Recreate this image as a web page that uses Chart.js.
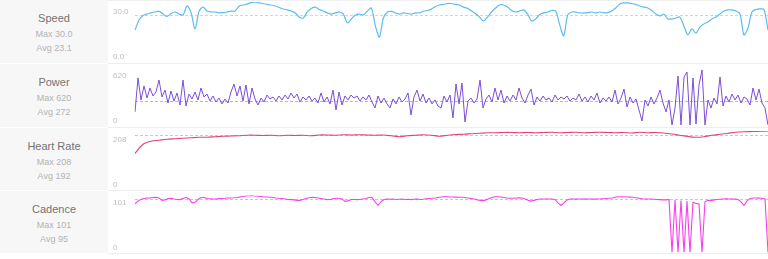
<!DOCTYPE html>
<html>
<head>
<meta charset="utf-8">
<title>Ride metrics</title>
<script src="https://cdn.jsdelivr.net/npm/chart.js@4"></script>
<style>
  body { margin: 0; background: #fff; font-family: "Liberation Sans", Arial, sans-serif; }
  .row { display: flex; width: 768px; }
  .info { width: 108px; background: #f7f7f7; position: relative; text-align: center; }
  .info .name { position: absolute; left: 0; right: 0; top: 12px; font-size: 11px; line-height: 13px; color: #737373; }
  .info .stat { position: absolute; left: 0; right: 0; font-size: 9px; line-height: 11px; color: #b3b3b3; }
  .plot { flex: 1; position: relative; border-bottom: 1px solid #eeeeee; }
  .plot.first { box-shadow: inset 0 1px 0 #f0f0f0; }
</style>
</head>
<body>
<div id="panels"></div>
<script>
// metric names and summary text
const metricNames = ['Speed', 'Power', 'Heart Rate', 'Cadence'];
const metricMax = ['30.0', '620', '208', '101'];
const metricAvg = ['23.1', '272', '192', '95'];
const avgValues = [23.1, 272, 192, 95];
const scaleMax = [30, 620, 208, 101];
const topTicks = ['30.0', '620', '208', '101'];
const bottomTicks = ['0.0', '0', '0', '0'];

const speedValues = [15.1, 20.4, 22.8, 23.6, 24.2, 24.7, 25.0, 23.6, 22.3, 23.9,
  24.7, 23.6, 23.1, 27.9, 24.2, 15.7, 25.2, 27.3, 25.2, 24.7,
  24.7, 24.2, 24.4, 24.7, 25.2, 25.2, 27.9, 28.4, 28.9, 29.7,
  30.0, 29.5, 29.2, 28.7, 28.4, 27.9, 27.1, 26.3, 25.8, 25.2,
  24.2, 22.0, 21.5, 24.7, 26.6, 27.3, 26.0, 25.2, 24.2, 23.6,
  24.2, 24.7, 23.6, 18.9, 21.0, 23.1, 23.6, 23.1, 25.2, 26.8,
  17.3, 11.4, 21.5, 24.7, 25.0, 24.2, 23.6, 24.2, 23.9, 23.6,
  24.2, 24.2, 25.2, 25.5, 26.3, 27.6, 28.4, 28.7, 29.2, 29.2,
  28.7, 28.4, 27.3, 26.6, 25.2, 23.9, 22.0, 19.9, 22.0, 24.7,
  26.8, 28.4, 28.4, 27.3, 25.5, 24.7, 25.2, 25.8, 23.6, 19.9,
  21.0, 23.4, 24.2, 24.7, 25.5, 25.2, 18.0, 12.0, 23.1, 24.7,
  24.7, 24.2, 24.2, 24.4, 24.7, 24.2, 24.7, 24.2, 24.4, 25.2,
  26.8, 28.9, 29.5, 29.5, 29.2, 28.7, 27.9, 27.3, 26.8, 25.5,
  23.6, 22.6, 23.6, 21.0, 21.0, 21.5, 22.0, 17.3, 12.5, 15.7,
  13.5, 16.7, 18.3, 19.4, 21.0, 22.0, 23.6, 25.2, 25.8, 25.8,
  25.2, 23.6, 12.5, 16.2, 24.7, 26.0, 26.3, 26.0, 15.1];

const powerValues = [147, 530, 282, 440, 304, 417, 327, 372, 507, 316,
  394, 248, 383, 270, 361, 225, 507, 214, 349, 293,
  372, 282, 417, 316, 349, 270, 327, 259, 304, 237,
  293, 248, 372, 462, 327, 440, 270, 451, 237, 417,
  293, 225, 304, 259, 338, 293, 316, 270, 327, 282,
  338, 293, 361, 304, 349, 259, 316, 282, 327, 270,
  304, 248, 361, 259, 316, 237, 394, 169, 372, 225,
  327, 282, 338, 304, 327, 270, 316, 282, 338, 259,
  192, 327, 248, 304, 237, 192, 293, 237, 316, 259,
  293, 361, 113, 316, 394, 270, 349, 248, 304, 237,
  282, 214, 192, 327, 259, 338, 79, 462, 237, 473,
  34, 270, 304, 248, 293, 507, 192, 293, 338, 259,
  417, 282, 394, 248, 327, 270, 338, 282, 417, 304,
  248, 338, 405, 225, 316, 270, 327, 282, 304, 259,
  338, 282, 316, 293, 327, 270, 304, 282, 349, 270,
  316, 259, 327, 282, 361, 248, 304, 270, 316, 259,
  394, 237, 304, 405, 203, 316, 248, 293, 169, 45,
  282, 214, 316, 237, 304, 394, 248, 147, 282, 0,
  192, 552, 0, 541, 597, 0, 530, 11, 451, 620,
  0, 282, 192, 304, 237, 541, 214, 327, 259, 349,
  282, 338, 248, 316, 293, 225, 417, 282, 405, 248,
  192, 0];

const heartValues = [119, 155, 167, 171, 175, 177, 179, 181, 183, 183,
  185, 187, 188, 189, 191, 191, 190, 191, 189, 191,
  190, 191, 189, 192, 192, 191, 193, 192, 193, 192,
  191, 192, 189, 185, 189, 191, 193, 191, 187, 191,
  194, 195, 197, 199, 201, 201, 202, 202, 201, 202,
  201, 202, 203, 201, 202, 203, 201, 202, 203, 202,
  201, 202, 200, 203, 201, 202, 200, 196, 191, 186,
  183, 185, 191, 195, 199, 203, 205, 206, 207, 208];

const cadenceValues = [86, 91.5, 94, 95.8, 96.7, 96.7, 97.5, 97.9, 96.7, 92.4,
  93.2, 95.8, 96.1, 94.9, 94, 93.7, 95.8, 97.9, 94.9, 88,
  88.9, 94, 97.5, 97.5, 95.8, 95.3, 94.9, 94.9, 95.4, 95.8,
  96.1, 96.7, 96.7, 97, 97.5, 98.4, 99.2, 100.1, 100.6, 101,
  100.1, 99.6, 99.2, 98.4, 98.4, 97.9, 97.5, 96.7, 96.1, 95.8,
  94.9, 94, 93.7, 93.2, 92.4, 92.4, 94, 95.8, 97, 97.9,
  97.5, 96.7, 95.8, 94.9, 93.7, 94, 95.3, 96.1, 96.1, 94.9,
  90.6, 91.5, 94, 94, 93.7, 94, 94.9, 95.8, 97.5, 97.5,
  89.7, 83.7, 89.7, 94, 94.9, 94.4, 94.9, 94, 94.4, 94.9,
  94, 94.4, 93.7, 94.4, 94.9, 94, 94.4, 95.3, 95.8, 96.1,
  96.7, 97.5, 98.4, 98.9, 98.7, 98.4, 98.4, 98.1, 97.9, 97.9,
  97.5, 96.7, 95.8, 94.9, 93.5, 92.4, 92, 93.2, 95.8, 97.5,
  98.7, 98.9, 98.4, 97.5, 96.7, 96.1, 96.1, 96.7, 97, 96.7,
  94.9, 92.4, 91, 92.4, 94, 94.9, 94.9, 94.9, 94.9, 94.9,
  94, 88, 83.4, 88, 93.2, 94.9, 94.9, 94.6, 94.9, 94.9,
  94.6, 94.9, 94.9, 94.6, 94.9, 94.9, 95.3, 95.8, 96.1, 96.7,
  97.9, 98.7, 98.9, 98.7, 98.4, 98.1, 97.9, 97, 96.1, 95.3,
  94.9, 94.9, 94.9, 94.4, 94, 93.7, 93.2, 93.2, 94, 0,
  93, 0, 92, 0, 91, 0, 89, 87, 86, 0,
  89.7, 92.4, 92, 93.2, 94, 94.4, 94.9, 95.3, 94.9, 94.9,
  94.6, 94, 89.7, 83.7, 91.5, 95.8, 96.7, 96.7, 96.4, 96.1,
  94.9, 0];

const seriesValues = [speedValues, powerValues, heartValues, cadenceValues];
const lineColors = ['#5dbcf0', '#7a4fd8', '#e2457a', '#f540ee'];
const avgColors = ['#b3e0f7', '#c2acef', '#f4b1c8', '#f7a8f2'];
const lineWidths = [1.2, 1, 1.2, 1.1];
const rowHeights = [64, 64, 63, 63];
const pads = [
  { top: 2, bottom: 4.5 },
  { top: 6, bottom: 2 },
  { top: 3, bottom: 7 },
  { top: 4.5, bottom: 0.5 }
];

// dashed average line + the two y labels
const panelDecor = {
  id: 'panelDecor',
  beforeDatasetsDraw(chart, args, opts) {
    const { ctx, chartArea } = chart;
    const py = Math.round(chart.scales.y.getPixelForValue(opts.avg)) + 0.5;
    ctx.save();
    ctx.strokeStyle = opts.avgColor;
    ctx.lineWidth = 1;
    ctx.setLineDash([3, 2]);
    ctx.beginPath();
    ctx.moveTo(chartArea.left, py);
    ctx.lineTo(chartArea.right, py);
    ctx.stroke();
    ctx.restore();
  },
  afterDraw(chart, args, opts) {
    const ctx = chart.ctx;
    ctx.save();
    ctx.font = '8px "Liberation Sans", Arial, sans-serif';
    ctx.fillStyle = '#bdbdbd';
    ctx.textAlign = 'left';
    ctx.textBaseline = 'middle';
    ctx.fillText(opts.topLabel, 5, 11.5);
    ctx.fillText(opts.bottomLabel, 5, 56.5);
    ctx.restore();
  }
};

const panels = document.getElementById('panels');

metricNames.forEach((name, i) => {
  const h = rowHeights[i];
  const row = document.createElement('div');
  row.className = 'row';
  row.style.height = h + 'px';
  row.innerHTML =
    '<div class="info" style="height:' + (h - 1) + 'px">' +
    '<div class="name">' + name + '</div>' +
    '<div class="stat" style="top:28.5px">Max ' + metricMax[i] + '</div>' +
    '<div class="stat" style="top:42.5px">Avg ' + metricAvg[i] + '</div>' +
    '</div>' +
    '<div class="plot' + (i === 0 ? ' first' : '') + '" style="height:' + (h - 1) + 'px"><canvas></canvas></div>';
  panels.appendChild(row);

  const values = seriesValues[i];
  const ctx = row.querySelector('canvas').getContext('2d');
  new Chart(ctx, {
    type: 'line',
    data: {
      labels: values.map((v, k) => k),
      datasets: [{
        data: values,
        borderColor: lineColors[i],
        borderWidth: lineWidths[i],
        pointRadius: 0,
        fill: false,
        tension: i === 0 || i === 2 ? 0.3 : 0
      }]
    },
    options: {
      responsive: true,
      maintainAspectRatio: false,
      animation: false,
      layout: { padding: { left: 27, right: 0, top: pads[i].top, bottom: pads[i].bottom } },
      scales: {
        x: { display: false, offset: false },
        y: { display: false, min: 0, max: scaleMax[i] }
      },
      plugins: {
        legend: { display: false },
        tooltip: { enabled: false },
        panelDecor: {
          avg: avgValues[i],
          avgColor: avgColors[i],
          topLabel: topTicks[i],
          bottomLabel: bottomTicks[i]
        }
      }
    },
    plugins: [panelDecor]
  });
});
</script>
</body>
</html>
